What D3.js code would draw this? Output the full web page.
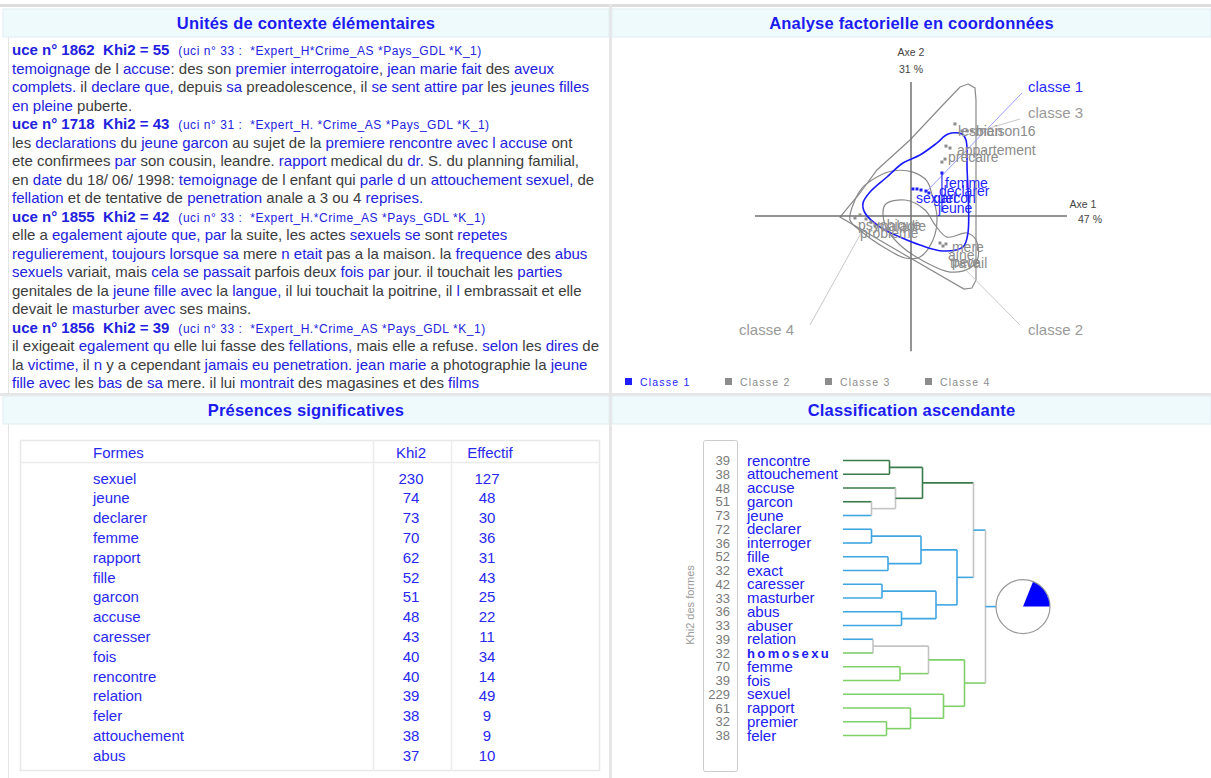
<!DOCTYPE html>
<html><head><meta charset="utf-8">
<script src="https://cdn.jsdelivr.net/npm/d3@7"></script>
<style>
body{margin:0;background:#fff;overflow:hidden;}
svg text{font-family:"Liberation Sans", Arial, sans-serif;}
</style></head><body>
<svg id="c" width="1211" height="778"></svg>
<script>
// ---------------- DATA ----------------
const panelTitles = ["Unités de contexte élémentaires","Analyse factorielle en coordonnées","Présences significatives","Classification ascendante"];

const uceHeaders = [
  {uce:1862, khi2:55, uci:"(uci n° 33 :  *Expert_H*Crime_AS *Pays_GDL *K_1)"},
  {uce:1718, khi2:43, uci:"(uci n° 31 :  *Expert_H. *Crime_AS *Pays_GDL *K_1)"},
  {uce:1855, khi2:42, uci:"(uci n° 33 :  *Expert_H.*Crime_AS *Pays_GDL *K_1)"},
  {uce:1856, khi2:39, uci:"(uci n° 33 :  *Expert_H.*Crime_AS *Pays_GDL *K_1)"}
];
const uceTexts = [
 ["{temoignage} de l {accuse}: des son {premier interrogatoire}, {jean marie fait} des {aveux}",
  "{complets.} il {declare que,} depuis {sa} preadolescence, il {se sent attire par} les {jeunes filles}",
  "{en pleine} puberte."],
 ["les {declarations} du {jeune garcon} au sujet de la {premiere rencontre avec l accuse} ont",
  "ete confirmees {par} son cousin, leandre. {rapport} medical du {dr.} S. du planning familial,",
  "en {date} du 18/ 06/ 1998: {temoignage} de l enfant qui {parle d} un {attouchement sexuel,} de",
  "{fellation} et de tentative de {penetration} anale a 3 ou 4 {reprises.}"],
 ["elle a {egalement ajoute que, par} la suite, les actes {sexuels se} sont {repetes}",
  "{regulierement, toujours lorsque sa} mere {n etait} pas a la maison. la {frequence} des {abus}",
  "{sexuels} variait, mais {cela se passait} parfois deux {fois par} jour. il touchait les {parties}",
  "genitales de la {jeune fille avec} la {langue,} il lui touchait la poitrine, il {l} embrassait et elle",
  "devait le {masturber avec} ses mains."],
 ["il exigeait {egalement qu} elle lui fasse des {fellations,} mais elle a refuse. {selon} les {dires} de",
  "la {victime,} il {n} y a cependant {jamais eu penetration. jean marie} a photographie la {jeune}",
  "{fille avec} les {bas} de {sa} mere. il lui {montrait} des magasines et des {films}"]
];

// Présences significatives
const tableHeaders = ["Formes","Khi2","Effectif"];
const formes   = ["sexuel","jeune","declarer","femme","rapport","fille","garcon","accuse","caresser","fois","rencontre","relation","feler","attouchement","abus"];
const khi2     = [230,74,73,70,62,52,51,48,43,40,40,39,38,38,37];
const effectif = [127,48,30,36,31,43,25,22,11,34,14,49,9,9,10];

// AFC
const axisLabels = {x:["Axe 1","47 %"], y:["Axe 2","31 %"]};
const classNames = ["Classe 1","Classe 2","Classe 3","Classe 4"];
const hullClass1 = [[0.285,0.631],[0.392,0.631],[0.423,0.585],[0.431,0.377],[0.438,-0.131],[0.4,-0.238],[0.246,-0.269],[0.069,-0.223],[-0.085,-0.162],[-0.238,-0.085],[-0.354,0.023],[-0.369,0.1],[-0.315,0.185],[-0.185,0.3],[-0.062,0.408],[0.069,0.469],[0.2,0.562]];
const hullClass3 = [[0.438,1.015],[0.492,0.985],[0.5,0.892],[0.5,-0.492],[0.469,-0.554],[0.408,-0.562],[-0.085,-0.277],[-0.546,-0.008],[-0.392,0.177],[-0.262,0.354],[-0.008,0.585],[0.223,0.831],[0.377,0.992]];
const hullClass4 = [[-0.377,0.215],[-0.262,0.3],[-0.146,0.346],[0.015,0.338],[0.123,0.269],[0.162,0.162],[0.2,-0.008],[0.169,-0.185],[0.069,-0.315],[-0.046,-0.323],[-0.2,-0.246],[-0.377,-0.123],[-0.469,-0.031],[-0.431,0.123]];
const hullClass2 = [[-0.2,0.085],[-0.046,0.123],[0.108,0.046],[0.185,-0.069],[0.277,-0.162],[0.431,-0.131],[0.5,-0.185],[0.515,-0.323],[0.454,-0.4],[0.3,-0.431],[0.108,-0.354],[-0.085,-0.223],[-0.2,-0.069]];
const afcPoints = [ // [x, y, class]
  [0.015,0.208,1],[0.046,0.208,1],[0.077,0.2,1],[0.115,0.192,1],[0.138,0.177,1],[0.238,0.331,1],
  [0.338,0.708,3],[0.269,0.538,3],[0.3,0.523,3],[0.238,0.415,3],[0.262,0.438,3],[0.392,0.654,3],[0.431,0.654,3],[0.469,0.654,3],
  [-0.431,-0.015,4],[-0.392,0.008,4],[-0.346,-0.023,4],[-0.308,-0.046,4],[-0.277,-0.077,4],
  [0.223,-0.208,2],[0.246,-0.231,2],[0.269,-0.215,2]
];
const afcWords = [ // [label, x, y, class]
  ["femme",0.262,0.254,1],["declarer",0.215,0.192,1],["sexuel",0.038,0.138,1],["garcon",0.169,0.138,1],["jeune",0.208,0.062,1],
  ["lesbien",0.362,0.654,3],["maison16",0.492,0.654,3],["appartement",0.354,0.508,3],["precaire",0.285,0.454,3],
  ["psychique",-0.408,-0.069,4],["maladie",-0.262,-0.077,4],["probleme",-0.392,-0.131,4],
  ["mere",0.315,-0.238,2],["aine",0.285,-0.3,2],["travail",0.3,-0.362,2],["pere",0.315,-0.354,2]
];
const classTags = [ // [label, labelX, labelY, fromX, fromY, toX, toY, class]
  ["classe 1",0.9,0.992,0.854,0.946,0.108,0.177,1],
  ["classe 3",0.9,0.792,0.838,0.746,0.392,0.615,3],
  ["classe 4",-1.323,-0.877,-0.777,-0.838,-0.354,-0.077,4],
  ["classe 2",0.9,-0.877,0.838,-0.838,0.285,-0.277,2]
];

// Classification ascendante
const dendroLeaves = ["rencontre","attouchement","accuse","garcon","jeune","declarer","interroger","fille","exact","caresser","masturber","abus","abuser","relation","homosexu","femme","fois","sexuel","rapport","premier","feler"];
const dendroKhi2   = [39,38,48,51,73,72,36,52,32,42,33,36,33,39,32,70,39,229,61,32,38];
const leafClass    = [3,3,3,3,1,1,1,1,1,1,1,1,1,1,2,2,2,2,2,2,2];
const dendroMerges = [ // [left, right, height, verticalClass, branchClass]
  [0,1,0.31,3,3],[3,4,0.19,0,0],[2,22,0.35,0,3],[21,23,0.53,3,3],
  [5,6,0.19,1,1],[7,8,0.30,1,1],[25,26,0.52,1,1],[9,10,0.26,1,1],[11,12,0.39,1,1],[28,29,0.62,1,1],[27,30,0.76,1,1],
  [24,31,0.87,0,1],
  [13,14,0.20,0,0],[15,16,0.38,2,2],[33,34,0.57,0,2],[19,20,0.29,2,2],[18,36,0.45,2,2],[17,37,0.67,2,2],[35,38,0.81,2,2],
  [32,39,0.95,0,1]
];
const pieStub = 1.02;
const classShare = {start:22, end:90}; // degrees, class 1 wedge

// ---------------- DRAW ----------------
const svg = d3.select("#c");
const BLUE = "#2222dd", DARK = "#3c3c3c", TBLUE = "#1c1cf0";

// frame
svg.append("rect").attr("x",0).attr("y",4).attr("width",1211).attr("height",3).attr("fill","#dddddd");
svg.append("rect").attr("x",609).attr("y",4).attr("width",3).attr("height",774).attr("fill","#e6e6e6");
svg.append("rect").attr("x",0).attr("y",393).attr("width",1211).attr("height",3).attr("fill","#e6e6e6");
svg.append("line").attr("x1",8.5).attr("x2",8.5).attr("y1",37).attr("y2",778).attr("stroke","#e4e4e4");

const bars = [{x:3,y:9,w:606},{x:612,y:9,w:599},{x:3,y:396,w:606},{x:612,y:396,w:599}];
bars.forEach((b,i)=>{
  svg.append("rect").attr("x",b.x).attr("y",b.y).attr("width",b.w).attr("height",28)
    .attr("fill","#effafd").attr("stroke","#e2eef2");
  svg.append("text").attr("x",b.x+b.w/2).attr("y",b.y+19.5).attr("text-anchor","middle")
    .attr("font-size",16.5).attr("font-weight","bold").attr("fill",TBLUE).attr("letter-spacing",0.2)
    .text(panelTitles[i]);
});

// ---- Unités de contexte élémentaires
const lineH = 18.5, y0 = 55;
let li = 0;
uceHeaders.forEach((h,k)=>{
  const t = svg.append("text").attr("x",12).attr("y",y0+li*lineH).style("white-space","pre");
  t.append("tspan").attr("font-weight","bold").attr("font-size",15).attr("fill",BLUE)
    .text(`uce n° ${h.uce}  Khi2 = ${h.khi2}`);
  t.append("tspan").attr("dx",9).attr("font-size",12).attr("letter-spacing",0.55).attr("fill",BLUE).text(h.uci);
  li++;
  uceTexts[k].forEach(line=>{
    const tt = svg.append("text").attr("x",12).attr("y",y0+li*lineH).attr("font-size",15).style("white-space","pre");
    line.split(/(\{[^}]*\})/).filter(s=>s.length).forEach(s=>{
      const hi = s[0]==="{";
      tt.append("tspan").attr("fill",hi?BLUE:DARK).text(hi?s.slice(1,-1):s);
    });
    li++;
  });
});

// ---- Présences significatives (table)
const tb = {x0:20.5,x1:599.5,y0:440.5,y1:770.5,hy:462.5,c1:373.5,c2:451.5};
const tg = svg.append("g");
tg.append("rect").attr("x",tb.x0).attr("y",tb.y0).attr("width",tb.x1-tb.x0).attr("height",tb.y1-tb.y0)
  .attr("fill","none").attr("stroke","#e8e8e8").attr("stroke-width",1.5);
tg.append("line").attr("x1",tb.x0).attr("x2",tb.x1).attr("y1",tb.hy).attr("y2",tb.hy).attr("stroke","#ececec").attr("stroke-width",1.5);
[tb.c1,tb.c2].forEach(c=>tg.append("line").attr("x1",c).attr("x2",c).attr("y1",tb.y0).attr("y2",tb.y1).attr("stroke","#ececec").attr("stroke-width",1.5));
const rowY = d3.scaleBand().domain(formes).range([468.1, 468.1+formes.length*19.8]);
const colX = [93, 411, 490];
const tfill = "#2828ee";
tableHeaders.forEach((h,i)=>tg.append("text").attr("x",colX[i]).attr("y",457.5)
  .attr("text-anchor",i?"middle":"start").attr("font-size",15).attr("fill",tfill).text(h));
formes.forEach((f,i)=>{
  const y = rowY(f)+rowY.bandwidth()/2+5.5;
  tg.append("text").attr("x",colX[0]).attr("y",y).attr("font-size",15).attr("fill",tfill).text(f);
  tg.append("text").attr("x",colX[1]).attr("y",y).attr("text-anchor","middle").attr("font-size",15).attr("fill",tfill).text(khi2[i]);
  tg.append("text").attr("x",colX[2]-3).attr("y",y).attr("text-anchor","middle").attr("font-size",15).attr("fill",tfill).text(effectif[i]);
});

// ---- AFC
const ax = d3.scaleLinear().domain([-1.2,1.2]).range([755,1067]);
const ay = d3.scaleLinear().domain([-1.04,1.03]).range([351.2,82.1]);
const ag = svg.append("g");
const hullLine = d3.line().x(d=>ax(d[0])).y(d=>ay(d[1]));
ag.append("path").attr("d",hullLine.curve(d3.curveLinearClosed)(hullClass3)).attr("fill","none").attr("stroke","#8a8a8a").attr("stroke-width",1.2);
ag.append("path").attr("d",hullLine.curve(d3.curveCatmullRomClosed.alpha(0.5))(hullClass4)).attr("fill","none").attr("stroke","#8a8a8a").attr("stroke-width",1.2);
ag.append("path").attr("d",hullLine.curve(d3.curveCatmullRomClosed.alpha(0.5))(hullClass2)).attr("fill","none").attr("stroke","#8a8a8a").attr("stroke-width",1.2);
// axes
ag.append("line").attr("x1",ax(-1.2)).attr("x2",ax(1.2)).attr("y1",ay(0)).attr("y2",ay(0)).attr("stroke","#707070").attr("stroke-width",1.5);
ag.append("line").attr("x1",ax(0)).attr("x2",ax(0)).attr("y1",ay(1.03)).attr("y2",ay(-1.04)).attr("stroke","#707070").attr("stroke-width",1.5);
ag.append("path").attr("d",hullLine.curve(d3.curveCatmullRomClosed.alpha(0.5))(hullClass1)).attr("fill","none").attr("stroke","#1a1aff").attr("stroke-width",1.6);
// leaders
const clsCol = c => c===1 ? "#1f1fff" : "#8c8c8c";
const leadCol = c => c===1 ? "#9a9aff" : "#c8c8c8";
classTags.forEach(t=>{
  ag.append("line").attr("x1",ax(t[3])).attr("y1",ay(t[4])).attr("x2",ax(t[5])).attr("y2",ay(t[6]))
    .attr("stroke",leadCol(t[7])).attr("stroke-width",1);
  ag.append("text").attr("x",ax(t[1])).attr("y",ay(t[2])+5).attr("font-size",15).attr("fill",t[7]===1?"#2a2aff":"#9a9a9a").text(t[0]);
});
// blue label tick
ag.append("line").attr("x1",ax(0.238)).attr("x2",ax(0.238)).attr("y1",ay(0.331)).attr("y2",ay(0.03)).attr("stroke","#2a2aff").attr("stroke-width",1.2);
afcPoints.forEach(p=>{
  ag.append("rect").attr("x",ax(p[0])-1.5).attr("y",ay(p[1])-1.5).attr("width",3).attr("height",3).attr("fill",clsCol(p[2]));
});
afcWords.forEach(w=>{
  ag.append("text").attr("x",ax(w[1])).attr("y",ay(w[2])+5).attr("font-size",14)
    .attr("fill",w[3]===1?"#1f1fff":"#8c8c8c").text(w[0]);
});
ag.append("text").attr("x",ax(0)).attr("y",ay(1.03)-26).attr("text-anchor","middle").attr("font-size",10.5).attr("fill","#444").text(axisLabels.y[0]);
ag.append("text").attr("x",ax(0)).attr("y",ay(1.03)-9).attr("text-anchor","middle").attr("font-size",10.5).attr("fill","#444").text(axisLabels.y[1]);
ag.append("text").attr("x",ax(1.2)+16).attr("y",ay(0)-8).attr("text-anchor","middle").attr("font-size",10.5).attr("fill","#444").text(axisLabels.x[0]);
ag.append("text").attr("x",ax(1.2)+23).attr("y",ay(0)+7).attr("text-anchor","middle").attr("font-size",10.5).attr("fill","#444").text(axisLabels.x[1]);
// legend
const legX = d3.scalePoint().domain(classNames).range([625,925]);
classNames.forEach((c,i)=>{
  const col = i===0 ? "#1f1fff" : "#8c8c8c";
  svg.append("rect").attr("x",legX(c)).attr("y",378).attr("width",7).attr("height",7).attr("fill",col);
  svg.append("text").attr("x",legX(c)+15).attr("y",386).attr("font-family","DejaVu Sans").attr("font-size",10.5)
    .attr("letter-spacing",1.2).attr("fill",col).text(c);
});

// ---- Dendrogram
const classColor = ["#c4c4c4","#3fa6e2","#7fd068","#3b7b4b"];
const dx = d3.scaleLinear().domain([0,1]).range([843,993]);
const dy = d3.scalePoint().domain(d3.range(dendroLeaves.length)).range([460.5,735.5]);
const nodes = dendroLeaves.map((n,i)=>({x:dx(0), y:dy(i), cls:leafClass[i]}));
const dg = svg.append("g");
dendroMerges.forEach(m=>{
  const a = nodes[m[0]], b = nodes[m[1]], x = dx(m[2]);
  [a,b].forEach(c=>dg.append("line").attr("x1",c.x).attr("x2",x).attr("y1",c.y).attr("y2",c.y)
      .attr("stroke",classColor[c.cls]).attr("stroke-width",1.6));
  dg.append("line").attr("x1",x).attr("x2",x).attr("y1",a.y).attr("y2",b.y)
      .attr("stroke",classColor[m[3]]).attr("stroke-width",1.6);
  nodes.push({x:x, y:(a.y+b.y)/2, cls:m[4]});
});
const root = nodes[nodes.length-1];
const pr = 27, pcx = dx(pieStub)+pr;
dg.append("line").attr("x1",root.x).attr("x2",dx(pieStub)).attr("y1",root.y).attr("y2",root.y).attr("stroke",classColor[root.cls]).attr("stroke-width",1.6);
dg.append("circle").attr("cx",pcx).attr("cy",root.y).attr("r",pr).attr("fill","#fff").attr("stroke","#999").attr("stroke-width",1.2);
dg.append("path").attr("transform",`translate(${pcx},${root.y})`)
  .attr("d",d3.arc().innerRadius(0).outerRadius(pr-0.5)({startAngle:classShare.start*Math.PI/180,endAngle:classShare.end*Math.PI/180}))
  .attr("fill","#0000ff");
// khi2 box
dg.append("rect").attr("x",703.5).attr("y",440.5).attr("width",34).attr("height",331).attr("rx",2)
  .attr("fill","none").attr("stroke","#cccccc");
dg.append("text").attr("transform","translate(694,605) rotate(-90)").attr("text-anchor","middle")
  .attr("font-size",11).attr("fill","#9a9a9a").text("Khi2 des formes");
dendroLeaves.forEach((n,i)=>{
  dg.append("text").attr("x",730).attr("y",dy(i)+4.5).attr("text-anchor","end").attr("font-size",13).attr("fill","#7a7a7a").text(dendroKhi2[i]);
  const t = dg.append("text").attr("x",747).attr("y",dy(i)+5).attr("fill","#2020f0");
  if (n==="homosexu") t.attr("font-size",13).attr("font-weight","bold").attr("letter-spacing",2.4).text(n);
  else t.attr("font-size",15).text(n);
});
</script>
</body></html>
